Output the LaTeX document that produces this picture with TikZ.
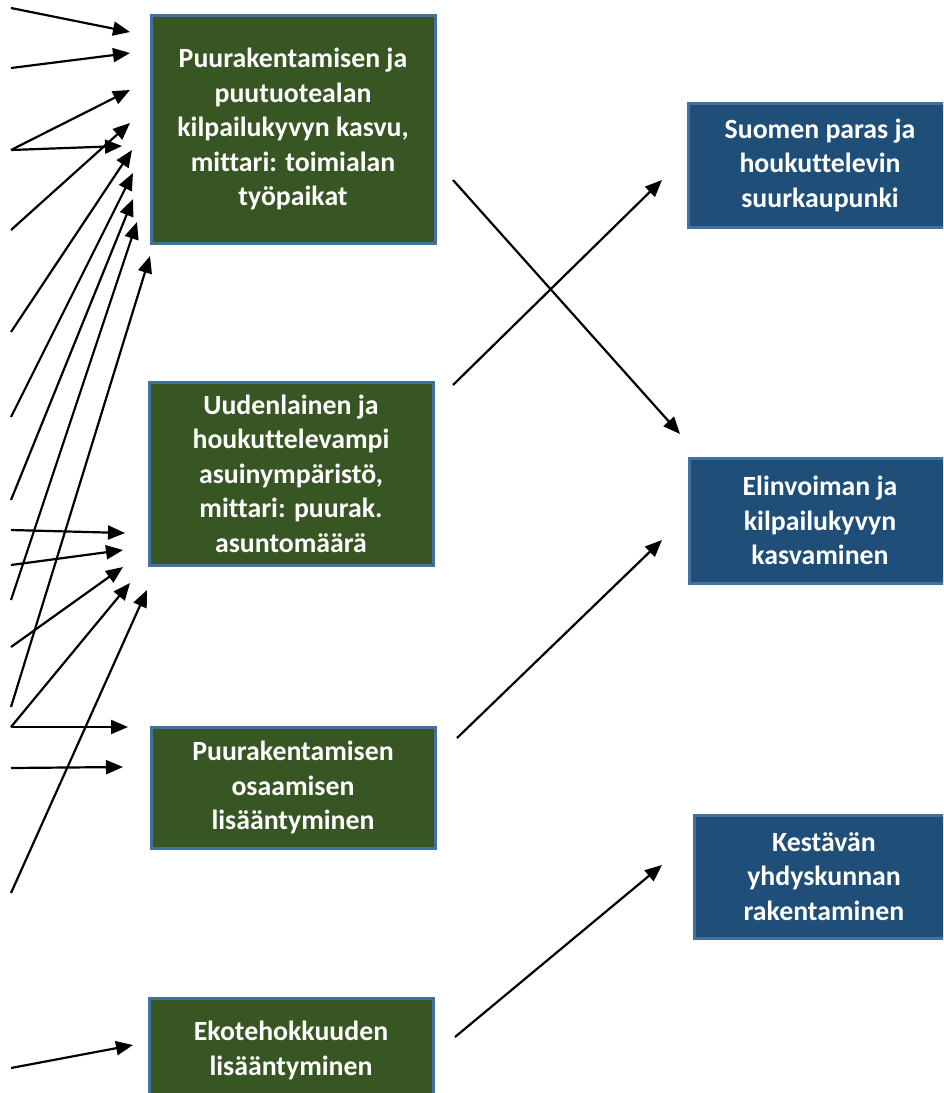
\documentclass[tikz,border=0pt]{standalone}
\usepackage{fontspec}
\setmainfont{Carlito}[Ligatures={NoCommon}]
\usetikzlibrary{arrows.meta}
\definecolor{boxgreen}{HTML}{375623}
\definecolor{boxblue}{HTML}{1F4E79}
\definecolor{boxedge}{HTML}{41719C}
\begin{document}
\begin{tikzpicture}[x=1pt,y=-1pt,
  gbox/.style={draw=boxedge,line width=3pt,fill=boxgreen,text=white,
    font=\fontsize{27.8}{34.5}\selectfont\bfseries,align=center,inner sep=0pt,minimum width=284pt},
  bbox/.style={gbox,fill=boxblue},
  arr/.style={line width=2.2pt,-{Triangle[length=17pt,width=14pt]}}]
\useasboundingbox (0,0) rectangle (943,1093);
\clip (0,0) rectangle (943,1093);

% green boxes
\node[gbox,minimum height=228pt] (b1) at (293,129)
  {Puurakentamisen ja\\puutuotealan\\kilpailukyvyn kasvu,\\mittari: toimialan\\työpaikat};
\node[gbox,minimum height=183pt] (b2) at (291,473.5)
  {Uudenlainen ja\\houkuttelevampi\\asuinympäristö,\\mittari: puurak.\\asuntomäärä};
\node[gbox,minimum height=121pt] (b3) at (293,787.5)
  {Puurakentamisen\\osaamisen\\lisääntyminen};
\node[gbox,minimum height=105pt] (b4) at (291,1050.5)
  {Ekotehokkuuden\\lisääntyminen};

% blue boxes
\node[bbox,minimum width=264pt,minimum height=124pt] (r1) at (820,165)
  {Suomen paras ja\\houkuttelevin\\suurkaupunki};
\node[bbox,minimum width=262pt,minimum height=125pt] (r2) at (820,520.5)
  {Elinvoiman ja\\kilpailukyvyn\\kasvaminen};
\node[bbox,minimum width=260pt,minimum height=123pt] (r3) at (824,876.5)
  {Kestävän\\yhdyskunnan\\rakentaminen};

% connectors between columns
\coordinate (b1o) at (453,180);  \coordinate (r2i) at (680,434);
\coordinate (b2o) at (453,385);  \coordinate (r1i) at (662,180);
\coordinate (b3o) at (457,738);  \coordinate (r2j) at (662,540);
\coordinate (b4o) at (455,1037); \coordinate (r3i) at (662,865);
\draw[arr] (b1o) -- (r2i);
\draw[arr] (b2o) -- (r1i);
\draw[arr] (b3o) -- (r2j);
\draw[arr] (b4o) -- (r3i);

% incoming arrows from the left edge
\foreach \n/\sy/\tx/\ty in {
  1/8/130/32, 2/68/130/53, 3/150/130/90, 4/150/122/146, 5/230/130/123,
  6/332/132/150, 7/417/133/173, 8/500/133/199, 9/600/137/222, 10/707/150/256,
  11/530/125/533, 12/565/123/550, 13/647/123/567, 14/727/130/583, 15/893/147/590,
  16/727/128/727, 17/768/123/767, 18/1068/133/1045}{
  \coordinate (s\n) at (11,\sy);
  \coordinate (t\n) at (\tx,\ty);
  \draw[arr] (s\n) -- (t\n);
}
\end{tikzpicture}
\end{document}
